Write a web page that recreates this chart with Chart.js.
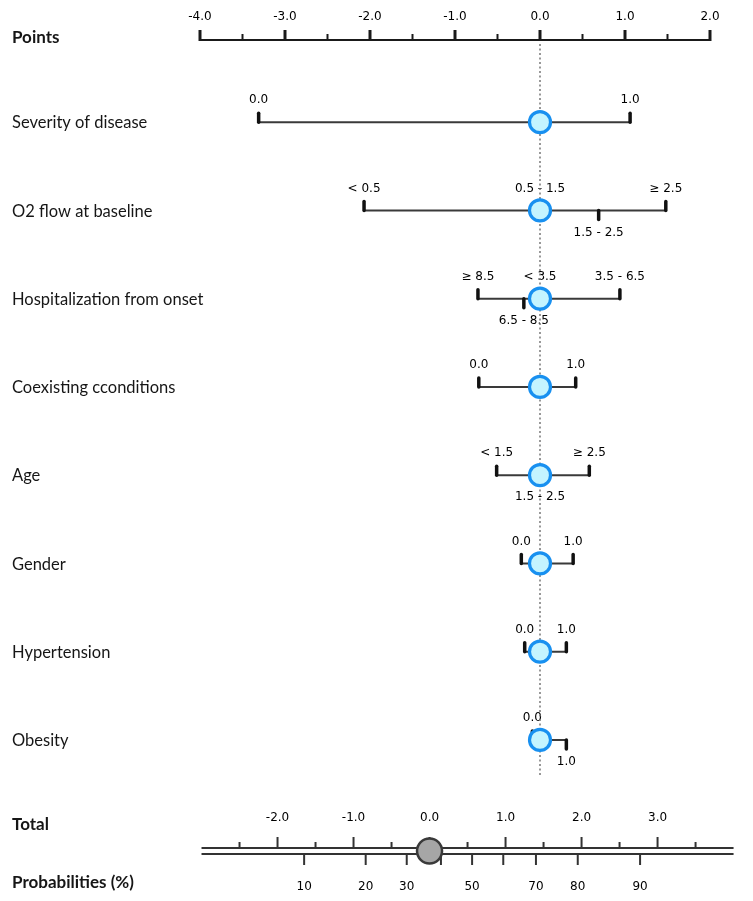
<!DOCTYPE html>
<html>
<head>
<meta charset="utf-8">
<script src="https://cdn.jsdelivr.net/npm/chart.js@4.4.0/dist/chart.umd.min.js"></script>
<style>
  html, body { margin: 0; padding: 0; background: #fff; }
</style>
</head>
<body>
<canvas id="nomogram" width="753" height="901"></canvas>
<script>
// predictors, top to bottom
const predictors = ['Severity of disease', 'O2 flow at baseline', 'Hospitalization from onset',
  'Coexisting cconditions', 'Age', 'Gender', 'Hypertension', 'Obesity'];

// category labels and their points for each predictor
const severityCats = ['0.0', '1.0'];
const severityPts = [-3.31, 1.06];
const o2Cats = ['< 0.5', '0.5 - 1.5', '1.5 - 2.5', '≥ 2.5'];
const o2Pts = [-2.07, 0, 0.69, 1.48];
const hospCats = ['≥ 8.5', '< 3.5', '6.5 - 8.5', '3.5 - 6.5'];
const hospPts = [-0.73, 0, -0.19, 0.94];
const coexCats = ['0.0', '1.0'];
const coexPts = [-0.72, 0.42];
const ageCats = ['< 1.5', '1.5 - 2.5', '≥ 2.5'];
const agePts = [-0.51, 0, 0.58];
const genderCats = ['0.0', '1.0'];
const genderPts = [-0.22, 0.39];
const hyperCats = ['0.0', '1.0'];
const hyperPts = [-0.18, 0.31];
const obesityCats = ['0.0', '1.0'];
const obesityPts = [-0.09, 0.31];

// the patient's points on each row (blue circles) and the total (grey circle)
const patientPts = [0, 0, 0, 0, 0, 0, 0, 0];
const patientTotal = 0;

// axes
const pointTicks = [-4, -3, -2, -1, 0, 1, 2];
const pointMinor = [-3.5, -2.5, -1.5, -0.5, 0.5, 1.5];
const totalTicks = [-2, -1, 0, 1, 2, 3];
const totalMinor = [-2.5, -1.5, -0.5, 0.5, 1.5, 2.5, 3.5];
const totalRange = [-3, 4];
const probLabels = ['10', '20', '30', '', '50', '', '70', '80', '90'];
const probAtTotal = [-1.65, -0.84, -0.30, 0.15, 0.56, 0.97, 1.40, 1.95, 2.77];

const catLabels = [severityCats, o2Cats, hospCats, coexCats, ageCats, genderCats, hyperCats, obesityCats];
const catPoints = [severityPts, o2Pts, hospPts, coexPts, agePts, genderPts, hyperPts, obesityPts];

// which category marks hang below the line (label under it)
const hangBelow = [[], ['1.5 - 2.5'], ['6.5 - 8.5'], [], ['1.5 - 2.5'], [], [], ['1.0']];

const fmt = v => v.toFixed(1);

const nomoPlugin = {
  id: 'nomo',
  beforeDatasetsDraw(chart) {
    const { ctx, scales: { x, y, xT } } = chart;
    ctx.save();
    ctx.fillStyle = '#161616';
    ctx.textBaseline = 'middle';

    // row names and titles
    ctx.textAlign = 'left';
    ctx.font = '16.5px Lato';
    predictors.forEach((p, i) => ctx.fillText(p, 12, y.getPixelForValue(i + 1) + 1));
    ctx.font = 'bold 17px Lato';
    ctx.fillText('Points', 12, 38);
    ctx.fillText('Total', 12, 825);
    ctx.fillText('Probabilities (%)', 12, 883);

    // points axis
    ctx.strokeStyle = '#1a1a1a';
    ctx.lineWidth = 2;
    ctx.beginPath();
    ctx.moveTo(x.getPixelForValue(-4), 40);
    ctx.lineTo(x.getPixelForValue(2), 40);
    ctx.stroke();
    ctx.lineWidth = 3;
    pointTicks.forEach(t => {
      const px = x.getPixelForValue(t);
      ctx.beginPath(); ctx.moveTo(px, 41); ctx.lineTo(px, 30); ctx.stroke();
    });
    ctx.lineWidth = 2;
    pointMinor.forEach(t => {
      const px = x.getPixelForValue(t);
      ctx.beginPath(); ctx.moveTo(px, 41); ctx.lineTo(px, 34); ctx.stroke();
    });
    ctx.textAlign = 'center';
    ctx.fillStyle = '#000';
    ctx.font = '12px "DejaVu Sans"';
    pointTicks.forEach(t => ctx.fillText(fmt(t), x.getPixelForValue(t), 17));

    // category labels
    catLabels.forEach((cats, i) => {
      const yy = y.getPixelForValue(i + 1);
      cats.forEach((c, j) => {
        const dn = hangBelow[i].includes(c);
        ctx.fillText(c, x.getPixelForValue(catPoints[i][j]), yy + (dn ? 22 : -22));
      });
    });

    // dotted reference line at 0 points
    ctx.save();
    ctx.strokeStyle = '#777';
    ctx.lineWidth = 1.5;
    ctx.setLineDash([2, 2.5]);
    ctx.beginPath();
    ctx.moveTo(x.getPixelForValue(0), 44);
    ctx.lineTo(x.getPixelForValue(0), 776);
    ctx.stroke();
    ctx.restore();

    // total points / probability double axis
    const x0 = xT.getPixelForValue(totalRange[0]);
    const x1 = xT.getPixelForValue(totalRange[1]);
    ctx.strokeStyle = '#333';
    ctx.lineWidth = 2;
    [848, 854].forEach(yy => {
      ctx.beginPath(); ctx.moveTo(x0, yy); ctx.lineTo(x1, yy); ctx.stroke();
    });
    totalTicks.forEach(t => {
      const px = xT.getPixelForValue(t);
      ctx.beginPath(); ctx.moveTo(px, 848); ctx.lineTo(px, 837); ctx.stroke();
    });
    totalMinor.forEach(t => {
      const px = xT.getPixelForValue(t);
      ctx.beginPath(); ctx.moveTo(px, 848); ctx.lineTo(px, 842); ctx.stroke();
    });
    probAtTotal.forEach(t => {
      const px = xT.getPixelForValue(t);
      ctx.beginPath(); ctx.moveTo(px, 854); ctx.lineTo(px, 865); ctx.stroke();
    });
    totalTicks.forEach(t => ctx.fillText(fmt(t), xT.getPixelForValue(t), 818));
    probLabels.forEach((l, i) => ctx.fillText(l, xT.getPixelForValue(probAtTotal[i]), 887));
    ctx.restore();
  },
  beforeDatasetDraw(chart, args) {
    // end/category marks go above the row lines but under the circles
    if (args.index !== 0) return;
    const { ctx, scales: { x, y } } = chart;
    ctx.save();
    ctx.strokeStyle = '#111';
    ctx.lineWidth = 3.5;
    ctx.lineCap = 'round';
    catLabels.forEach((cats, i) => {
      const yy = y.getPixelForValue(i + 1);
      cats.forEach((c, j) => {
        const px = x.getPixelForValue(catPoints[i][j]);
        const dn = hangBelow[i].includes(c);
        ctx.beginPath();
        if (dn) { ctx.moveTo(px, yy); ctx.lineTo(px, yy + 9); }
        else { ctx.moveTo(px, yy); ctx.lineTo(px, yy - 9); }
        ctx.stroke();
      });
    });
    ctx.restore();
  },
  afterDatasetsDraw(chart) {
    const { ctx, scales: { xT } } = chart;
    ctx.save();
    ctx.fillStyle = '#a6a6a6';
    ctx.strokeStyle = '#3a3a3a';
    ctx.lineWidth = 2.5;
    ctx.beginPath();
    ctx.arc(xT.getPixelForValue(patientTotal), 851, 12.5, 0, Math.PI * 2);
    ctx.fill();
    ctx.stroke();
    ctx.restore();
  }
};

// circles first so they are drawn on top of the row lines
const datasets = [{
  type: 'scatter',
  data: patientPts.map((v, i) => ({ x: v, y: i + 1 })),
  pointRadius: 10.5,
  pointHoverRadius: 10.5,
  backgroundColor: '#c4f4ff',
  borderColor: '#1890f0',
  borderWidth: 3.2
}];
catPoints.forEach((pts, i) => {
  datasets.push({
    type: 'line',
    data: [{ x: Math.min(...pts), y: i + 1 }, { x: Math.max(...pts), y: i + 1 }],
    borderColor: '#3a3a3a',
    borderWidth: 2,
    pointRadius: 0
  });
});

new Chart(document.getElementById('nomogram'), {
  type: 'scatter',
  data: { datasets },
  options: {
    responsive: false,
    animation: false,
    layout: { padding: { left: 200, right: 43, top: 78, bottom: 117 } },
    plugins: { legend: { display: false }, tooltip: { enabled: false } },
    scales: {
      x: { type: 'linear', min: -4, max: 2, display: false },
      xT: { type: 'linear', axis: 'x', min: -3.02, max: 3.69, display: false },
      y: { type: 'linear', min: 0.5, max: 8.5, reverse: true, display: false }
    }
  },
  plugins: [nomoPlugin]
});
</script>
</body>
</html>
